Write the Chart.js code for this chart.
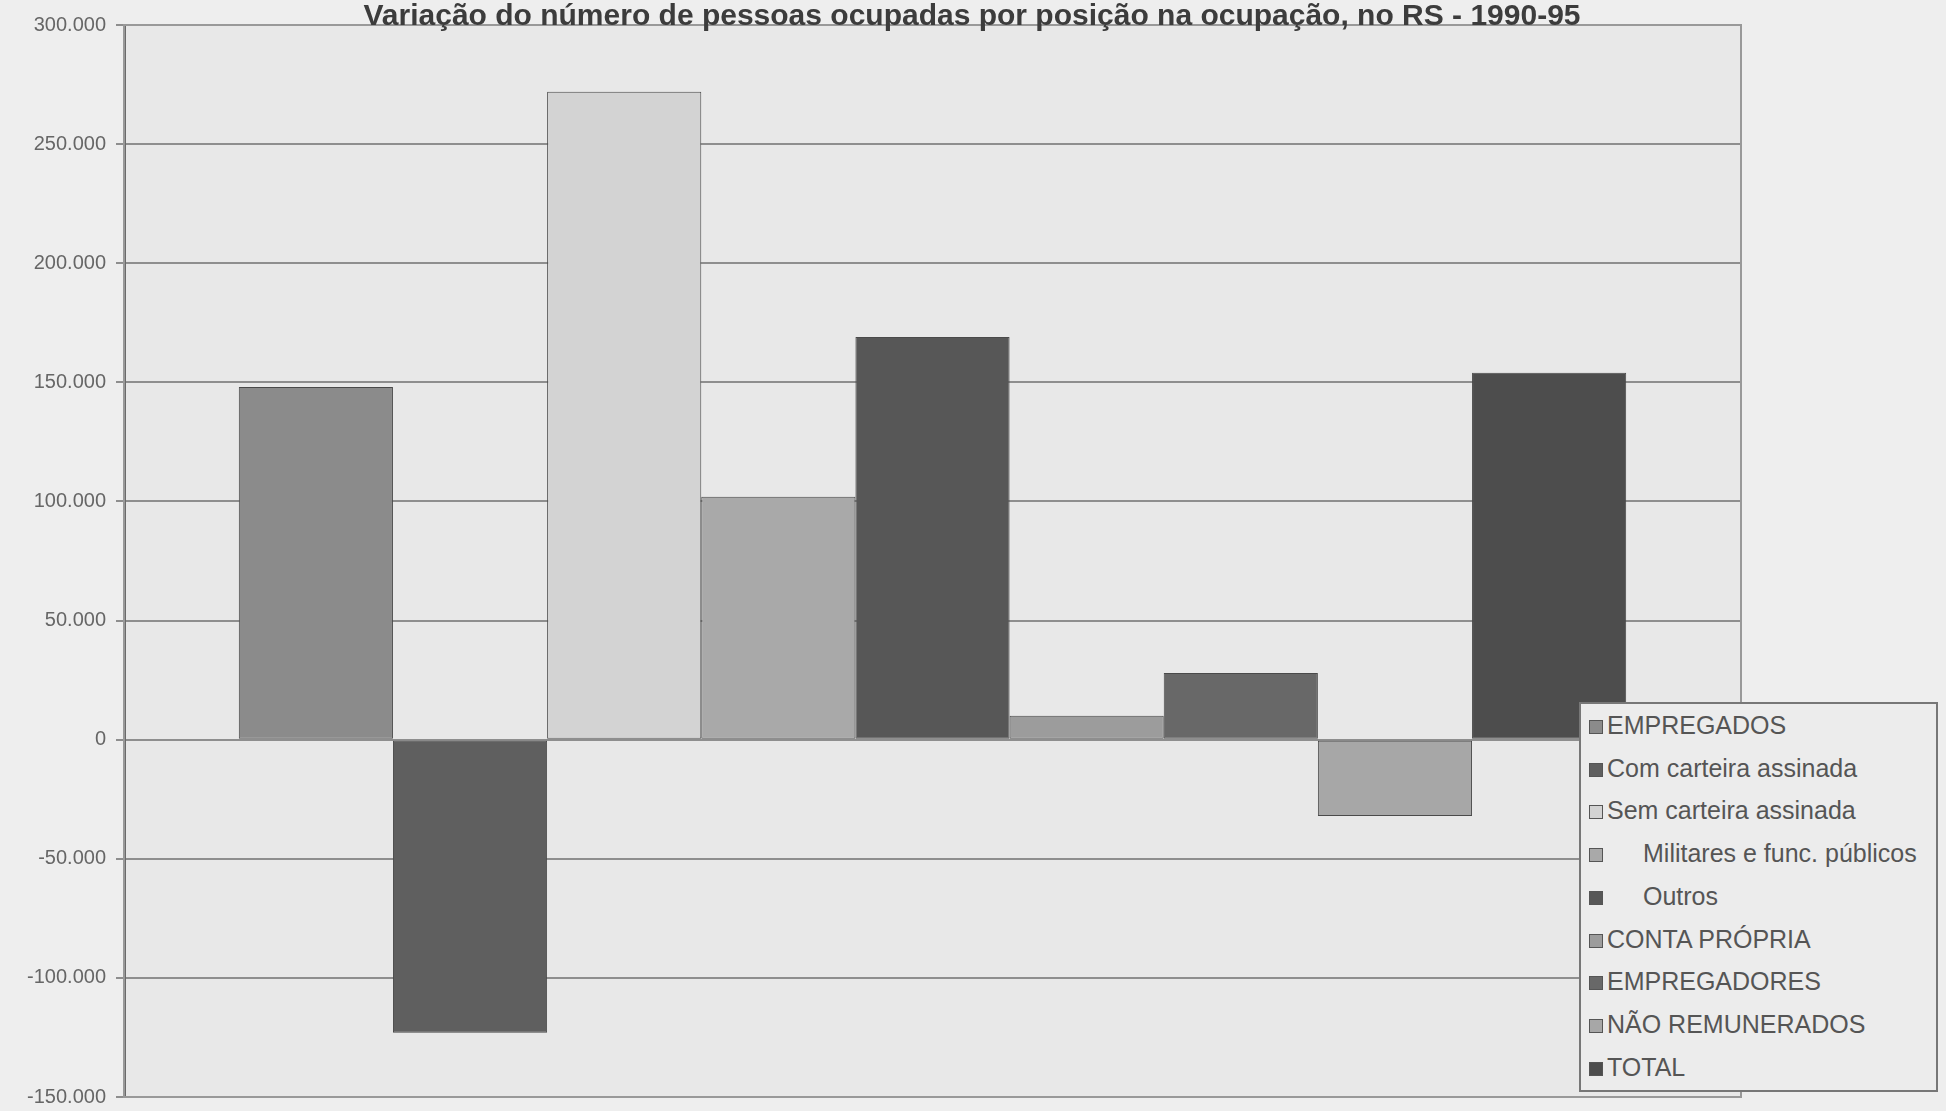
<!DOCTYPE html>
<html>
<head>
<meta charset="utf-8">
<script src="https://cdn.jsdelivr.net/npm/chart.js@4.4.1/dist/chart.umd.min.js"></script>
<style>
  html, body { margin: 0; padding: 0; background: #eeeeee; overflow: hidden; }
  #wrap { position: relative; width: 1946px; height: 1111px; overflow: hidden; }
  #chart { position: absolute; left: 0; top: 0; }
  #legend {
    position: absolute; left: 1579px; top: 702px; width: 359px; height: 390px;
    border: 2px solid #777; background: #ececec; box-sizing: border-box;
    font-family: "Liberation Sans", Arial, sans-serif; font-size: 25px; color: #555;
    letter-spacing: 0px;
  }
  .item { position: absolute; left: 8px; height: 28px; line-height: 28px; white-space: nowrap; }
  .box { display: inline-block; width: 12px; height: 12px; border: 1px solid #555; margin-right: 4px; vertical-align: 0px; }
</style>
</head>
<body>
<div id="wrap">
  <canvas id="chart" width="1946" height="1119"></canvas>
  <div id="legend"></div>
</div>
<script>
/* ================= DATA ================= */
const titleText = "Variação do número de pessoas ocupadas por posição na ocupação, no RS - 1990-95";
const seriesNames = [
  "EMPREGADOS",
  "Com carteira assinada",
  "Sem carteira assinada",
  "Militares e func. públicos",
  "Outros",
  "CONTA PRÓPRIA",
  "EMPREGADORES",
  "NÃO REMUNERADOS",
  "TOTAL"
];
const seriesValues = [148000, -123000, 272000, 102000, 169000, 10000, 28000, -32000, 154000];
const seriesColors = ["#8b8b8b", "#5f5f5f", "#d3d3d3", "#a9a9a9", "#575757", "#9c9c9c", "#686868", "#a7a7a7", "#4d4d4d"];
const indented = [false, false, false, true, true, false, false, false, false];
const yMin = -150000, yMax = 300000, yStep = 50000;

function fmt(v) {
  return String(v).replace(/\B(?=(\d{3})+(?!\d))/g, ".");
}

/* ================= PLUGINS ================= */
const titlePlugin = {
  id: "scanTitle",
  afterDraw(chart) {
    const ctx = chart.ctx;
    ctx.save();
    ctx.font = "bold 30px 'Liberation Sans', Arial, sans-serif";
    ctx.fillStyle = "#3c3c3c";
    ctx.textAlign = "center";
    ctx.textBaseline = "middle";
    ctx.fillText(titleText, 972, 17);
    ctx.restore();
  },
  beforeDatasetsDraw(chart) {
    const a = chart.chartArea, ctx = chart.ctx;
    ctx.save();
    ctx.strokeStyle = "#999";
    ctx.lineWidth = 2;
    ctx.strokeRect(a.left, a.top, a.right - a.left, a.bottom - a.top);
    ctx.restore();
  }
};

const bgPlugin = {
  id: "plotBg",
  beforeDraw(chart) {
    const a = chart.chartArea, ctx = chart.ctx;
    ctx.save();
    ctx.fillStyle = "#e8e8e8";
    ctx.fillRect(a.left, a.top, a.right - a.left, a.bottom - a.top);
    ctx.restore();
  }
};

/* ================= CHART ================= */
const datasets = seriesNames.map((name, i) => ({
  label: name,
  data: [seriesValues[i]],
  backgroundColor: seriesColors[i],
  borderColor: "#4a4a4a",
  borderWidth: 1,
  borderSkipped: false
}));

new Chart(document.getElementById("chart"), {
  type: "bar",
  data: { labels: [""], datasets: datasets },
  options: {
    responsive: false,
    animation: false,
    layout: { padding: { left: 0, right: 205, top: 25, bottom: 8 } },
    plugins: { legend: { display: false }, tooltip: { enabled: false }, title: { display: false } },
    datasets: { bar: { categoryPercentage: 0.858, barPercentage: 1 } },
    scales: {
      x: { display: false },
      y: {
        min: yMin, max: yMax,
        afterFit(scale) { scale.width = 124; },
        ticks: {
          stepSize: yStep,
          padding: 10,
          color: "#666",
          font: { family: "'Liberation Sans', Arial, sans-serif", size: 20 },
          callback: v => fmt(v)
        },
        grid: { color: "#8e8e8e", lineWidth: 2, tickLength: 8, drawTicks: true },
        border: { display: true, color: "#6a6a6a", width: 3 }
      }
    }
  },
  plugins: [bgPlugin, titlePlugin]
});

/* ================= LEGEND ================= */
const legend = document.getElementById("legend");
seriesNames.forEach((name, i) => {
  const el = document.createElement("div");
  el.className = "item";
  el.style.top = (7 + i * 42.7) + "px";
  const gap = indented[i] ? '<span style="display:inline-block;width:36px"></span>' : "";
  el.innerHTML = `<span class="box" style="background:${seriesColors[i]}"></span>${gap}${name}`;
  legend.appendChild(el);
});
</script>
</body>
</html>
